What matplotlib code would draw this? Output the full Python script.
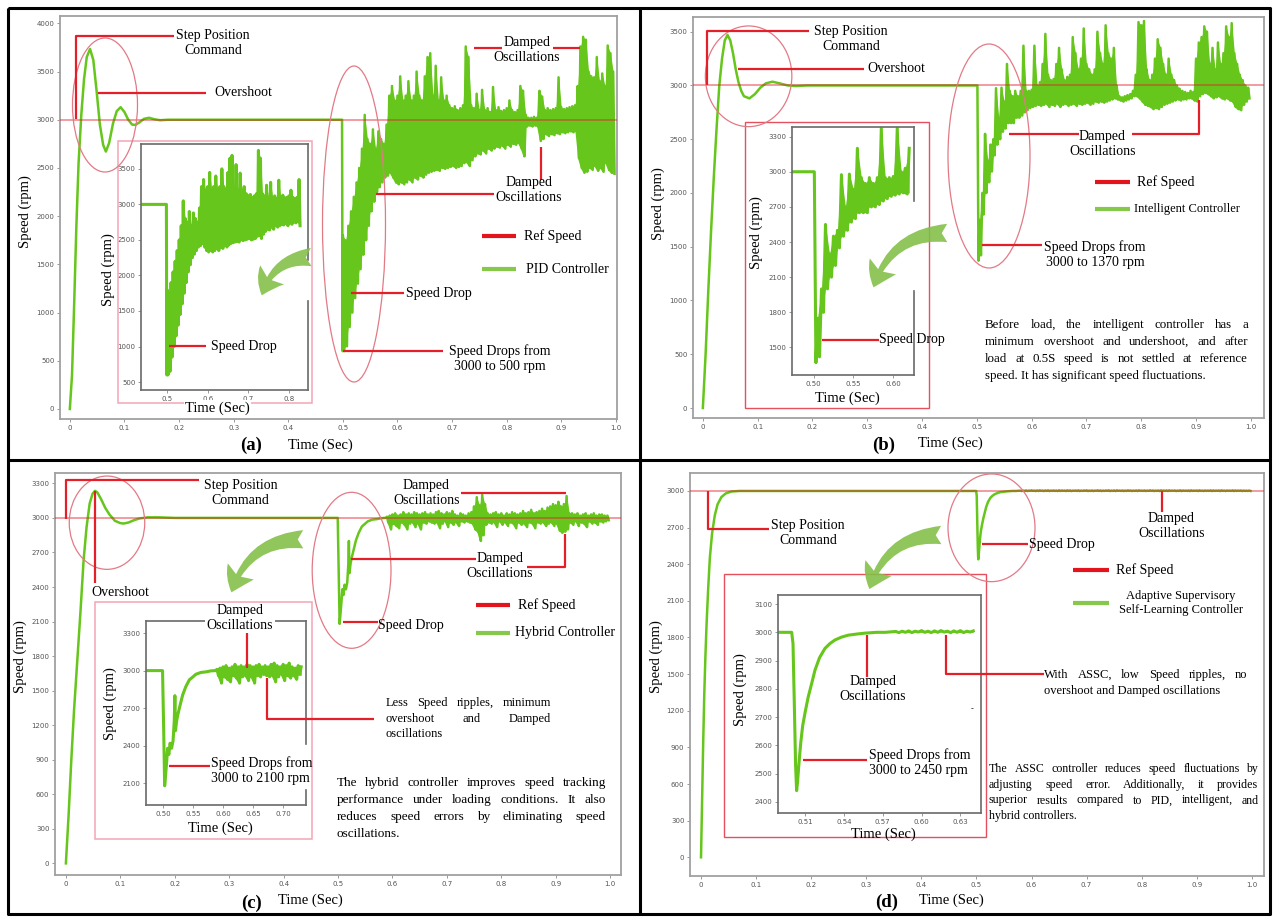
import numpy as np
import matplotlib
matplotlib.use('Agg')
import matplotlib.pyplot as plt
from matplotlib.patches import Ellipse, Rectangle, FancyArrowPatch
from matplotlib.lines import Line2D

plt.rcParams['font.family'] = ['Liberation Serif', 'DejaVu Serif']

# ====================== DATA ======================
REF_SPEED = 3000

# ---- (a) PID controller ----
pid_t = [0, 0.004, 0.008, 0.012, 0.016, 0.021, 0.026, 0.031, 0.037, 0.043, 0.049, 0.055,
         0.061, 0.066, 0.072, 0.079, 0.086, 0.093, 0.100, 0.107, 0.114, 0.120, 0.128,
         0.136, 0.145, 0.155, 0.165, 0.18, 0.2, 0.4985, 0.4995]
pid_v = [0, 350, 1100, 1900, 2550, 3050, 3420, 3650, 3734, 3620, 3300, 2950,
         2740, 2670, 2760, 2960, 3090, 3130, 3080, 3000, 2950, 2946, 2975,
         3010, 3020, 3005, 2995, 3000, 3000, 3000, 600]
pid_noise_t0 = 0.500
pid_noise_dt = 0.005
pid_hi = [1800, 1750, 1900, 2050, 2200, 2350, 2500, 2700, 3050, 2800,
          2750, 2900, 2700, 2880, 2800, 2750, 2950, 3250, 3350, 3200,
          3250, 3450, 3200, 3250, 3400, 3200, 3250, 3500, 3250, 3200,
          3450, 3650, 3690, 3250, 3560, 3200, 3440, 3200, 3250, 3150,
          3120, 3140, 3100, 3120, 3150, 3760, 3650, 3150, 3120, 3270,
          3100, 3310, 3100, 3120, 3080, 3340, 3100, 3130, 3090, 3100,
          3120, 3200, 3100, 3080, 3100, 3350, 3300, 3050, 3020, 3020,
          3030, 3020, 3300, 3240, 3100, 3120, 3100, 3110, 3120, 3440,
          3130, 3110, 3120, 3130, 3140, 3150, 3350, 3760, 3860, 3830,
          3500, 3450, 3440, 3650, 3400, 3480, 3350, 3770, 3690, 3500]
pid_lo = [600, 650, 850, 1000, 1150, 1300, 1450, 1600, 1750, 1900,
          2050, 2150, 2250, 2300, 2350, 2400, 2420, 2450, 2400, 2350,
          2330, 2350, 2330, 2350, 2380, 2350, 2400, 2380, 2420, 2400,
          2430, 2450, 2460, 2470, 2480, 2470, 2500, 2490, 2500, 2510,
          2520, 2500, 2510, 2520, 2550, 2560, 2520, 2580, 2620, 2650,
          2640, 2680, 2650, 2700, 2680, 2700, 2720, 2710, 2730, 2700,
          2740, 2720, 2750, 2740, 2760, 2700, 2620, 2930, 2940, 2930,
          2940, 2930, 2780, 2800, 2850, 2830, 2850, 2840, 2860, 2850,
          2870, 2860, 2870, 2880, 2870, 2880, 2600, 2500, 2450, 2460,
          2500, 2480, 2520, 2470, 2500, 2460, 2550, 2480, 2450, 2440]

# ---- (b) Intelligent controller ----
int_t = [0, 0.005, 0.010, 0.015, 0.020, 0.025, 0.030, 0.035, 0.040, 0.045, 0.050,
         0.055, 0.060, 0.065, 0.070, 0.075, 0.085, 0.095, 0.105, 0.115, 0.127,
         0.140, 0.155, 0.170, 0.190, 0.501, 0.503]
int_v = [0, 500, 1100, 1650, 2150, 2600, 3000, 3250, 3420, 3470, 3420,
         3300, 3150, 3030, 2950, 2900, 2880, 2920, 2980, 3020, 3035,
         3020, 3000, 2995, 3000, 3000, 1370]
int_noise_t0 = 0.505
int_noise_dt = 0.005
int_hi = [1750, 2000, 2550, 2300, 2450, 2500, 2975, 2700, 2980, 2850,
          3200, 2950, 2900, 2950, 2900, 2950, 3370, 2950, 2950, 2960,
          3370, 3000, 3030, 3200, 3480, 3100, 3050, 3060, 3200, 3350,
          3150, 3050, 3080, 3100, 3450, 3300, 3150, 3250, 3530, 3200,
          3150, 3100, 3150, 3500, 3300, 3200, 3560, 3300, 3250, 3350,
          3000, 2900, 2890, 2900, 2910, 2920, 2950, 3100, 3590, 3560,
          3600, 3150, 3050, 3100, 3250, 3430, 3350, 3200, 3100, 3250,
          3100, 3050, 3000, 2970, 2950, 2940, 2930, 2950, 2940, 3250,
          3400, 3450, 3550, 3500, 3200, 3350, 3150, 3400, 3200, 3300,
          3550, 3450, 3580, 3300, 3200, 3100, 3050, 3000, 2980]
int_lo = [1420, 1800, 2000, 2100, 2200, 2350, 2450, 2500, 2570, 2600,
          2650, 2650, 2650, 2700, 2700, 2720, 2750, 2770, 2790, 2800,
          2810, 2820, 2810, 2820, 2830, 2800, 2820, 2810, 2830, 2800,
          2820, 2830, 2810, 2820, 2830, 2810, 2830, 2820, 2830, 2840,
          2820, 2830, 2850, 2840, 2850, 2840, 2850, 2860, 2870, 2880,
          2870, 2860, 2850, 2860, 2870, 2880, 2900, 2900, 2880, 2850,
          2820, 2810, 2800, 2780, 2790, 2780, 2800, 2820, 2830, 2840,
          2850, 2860, 2870, 2860, 2870, 2870, 2880, 2880, 2860, 2850,
          2900, 2920, 2930, 2920, 2900, 2880, 2890, 2900, 2880, 2870,
          2880, 2860, 2850, 2800, 2780, 2770, 2820, 2850, 2880]

# ---- (c) Hybrid controller ----
hyb_t = [0, 0.005, 0.010, 0.015, 0.021, 0.027, 0.0325, 0.038, 0.0437, 0.049, 0.0535,
         0.058, 0.065, 0.072, 0.08, 0.09, 0.1, 0.106, 0.115, 0.125, 0.135, 0.15, 0.17,
         0.2, 0.4995, 0.5015, 0.503, 0.5045, 0.506, 0.508, 0.510, 0.512, 0.5145, 0.517,
         0.519, 0.520, 0.521, 0.523, 0.525, 0.529, 0.533, 0.538, 0.544, 0.550, 0.555,
         0.563, 0.572, 0.580, 0.5875]
hyb_v = [0, 420, 900, 1330, 1765, 2200, 2630, 2920, 3125, 3210, 3235,
         3220, 3160, 3090, 3030, 2975, 2955, 2951, 2960, 2980, 2995, 3005, 3005,
         3000, 3000, 2500, 2080, 2160, 2250, 2380, 2330, 2420, 2380, 2440,
         2600, 2800, 2520, 2600, 2650, 2730, 2806, 2870, 2926, 2950, 2971,
         2985, 2990, 2998, 3000]
hyb_noise_t0 = 0.590
hyb_noise_dt = 0.005
hyb_hi = [3010, 3020, 3030, 3040, 3020, 3030, 3050, 3030, 3040, 3030,
          3050, 3040, 3030, 3040, 3050, 3030, 3040, 3030, 3050, 3060,
          3040, 3030, 3050, 3040, 3060, 3030, 3020, 3040, 3030, 3020,
          3040, 3050, 3100, 3180, 3110, 3200, 3120, 3040, 3030, 3040,
          3050, 3030, 3040, 3020, 3040, 3030, 3050, 3040, 3030, 3040,
          3060, 3040, 3050, 3070, 3040, 3050, 3060, 3080, 3060, 3090,
          3100, 3120, 3110, 3140, 3100, 3120, 3190, 3040, 3040, 3030,
          3040, 3020, 3030, 3040, 3020, 3030, 3040, 3020, 3030, 3030,
          3020, 3020]
hyb_lo = [2960, 2900, 2950, 2930, 2910, 2960, 2940, 2900, 2950, 2960,
          2920, 2950, 2900, 2960, 2950, 2970, 2960, 2950, 2960, 2910,
          2950, 2970, 2920, 2960, 2940, 2960, 2930, 2970, 2960, 2970,
          2960, 2950, 2900, 2880, 2800, 2850, 2940, 2960, 2950, 2960,
          2920, 2970, 2940, 2960, 2930, 2960, 2950, 2910, 2960, 2940,
          2950, 2920, 2960, 2950, 2910, 2960, 2950, 2960, 2930, 2950,
          2960, 2930, 2950, 2890, 2870, 2880, 2900, 2960, 2940, 2970,
          2930, 2960, 2950, 2920, 2970, 2950, 2960, 2940, 2970, 2960,
          2970, 2980]

# ---- (d) Adaptive Supervisory Self-Learning controller ----
assc_t = [0, 0.002, 0.004, 0.006, 0.008, 0.010, 0.013, 0.016, 0.020, 0.025, 0.030,
          0.037, 0.045, 0.055, 0.07, 0.4995, 0.5005, 0.5015, 0.5025, 0.5033, 0.504,
          0.505, 0.5065, 0.508, 0.510, 0.5123, 0.515, 0.5175, 0.521, 0.5252, 0.529,
          0.533, 0.538, 0.5433, 0.55, 0.556, 0.565, 0.572]
assc_v = [0, 500, 950, 1350, 1650, 1900, 2200, 2450, 2650, 2800, 2890,
          2950, 2980, 2995, 3000, 3000, 2960, 2750, 2530, 2440, 2470,
          2530, 2610, 2670, 2720, 2772, 2820, 2866, 2910, 2943, 2960,
          2973, 2983, 2990, 2994, 2997, 3000, 3000]
assc_noise_t0 = 0.58
assc_noise_dt = 0.005
assc_hi = [3003, 3004, 3005, 3004, 3006, 3004, 3005, 3006, 3004, 3005, 3006, 3004, 3005, 3004,
           3006, 3005, 3004, 3006, 3005, 3004, 3005, 3006, 3004, 3005, 3006, 3004, 3005, 3004,
           3006, 3005, 3004, 3005, 3006, 3004, 3005, 3006, 3004, 3005, 3004, 3006, 3005, 3004,
           3005, 3006, 3004, 3005, 3004, 3006, 3005, 3004, 3005, 3006, 3004, 3005, 3006, 3004,
           3005, 3004, 3006, 3005, 3004, 3005, 3006, 3004, 3005, 3006, 3004, 3005, 3004, 3006,
           3005, 3004, 3005, 3006, 3004, 3005, 3004, 3006, 3005, 3004, 3005, 3004, 3003, 3004]
assc_lo = [2999, 3000, 2999, 3001, 3000, 2999, 3000, 3001, 2999, 3000, 2999, 3001, 3000, 2999,
           3000, 3001, 2999, 3000, 2999, 3001, 3000, 2999, 3000, 3001, 2999, 3000, 2999, 3001,
           3000, 2999, 3000, 3001, 2999, 3000, 2999, 3001, 3000, 2999, 3000, 3001, 2999, 3000,
           2999, 3001, 3000, 2999, 3000, 3001, 2999, 3000, 2999, 3001, 3000, 2999, 3000, 3001,
           2999, 3000, 2999, 3001, 3000, 2999, 3000, 3001, 2999, 3000, 2999, 3001, 3000, 2999,
           3000, 3001, 2999, 3000, 2999, 3001, 3000, 2999, 3000, 3001, 2999, 3000, 3000, 3000]

# ---- ticks ----
main_xticks = [0, 0.1, 0.2, 0.3, 0.4, 0.5, 0.6, 0.7, 0.8, 0.9, 1.0]
main_xlabels = ['0', '0.1', '0.2', '0.3', '0.4', '0.5', '0.6', '0.7', '0.8', '0.9', '1.0']
a_yticks = [0, 500, 1000, 1500, 2000, 2500, 3000, 3500, 4000]
a_in_xticks = [0.5, 0.6, 0.7, 0.8]
a_in_xlabels = ['0.5', '0.6', '0.7', '0.8']
a_in_yticks = [500, 1000, 1500, 2000, 2500, 3000, 3500]
b_yticks = [0, 500, 1000, 1500, 2000, 2500, 3000, 3500]
b_in_xticks = [0.50, 0.55, 0.60]
b_in_xlabels = ['0.50', '0.55', '0.60']
b_in_yticks = [1500, 1800, 2100, 2400, 2700, 3000, 3300]
c_yticks = [0, 300, 600, 900, 1200, 1500, 1800, 2100, 2400, 2700, 3000, 3300]
c_in_xticks = [0.50, 0.55, 0.60, 0.65, 0.70]
c_in_xlabels = ['0.50', '0.55', '0.60', '0.65', '0.70']
c_in_yticks = [2100, 2400, 2700, 3000, 3300]
d_yticks = [0, 300, 600, 900, 1200, 1500, 1800, 2100, 2400, 2700, 3000]
d_in_xticks = [0.51, 0.54, 0.57, 0.60, 0.63]
d_in_xlabels = ['0.51', '0.54', '0.57', '0.60', '0.63']
d_in_yticks = [2400, 2500, 2600, 2700, 2800, 2900, 3000, 3100]

# ====================== STYLE / HELPERS ======================
W, H = 1275, 918
GREEN = '#66c61c'
LEG_GREEN = '#86c94a'
RED = '#e51f28'
ELL = '#e27a86'
PINKBOX = '#f2a6b4'
REDBOX = '#e4505c'
ARROW = '#84c049'

fig = plt.figure(figsize=(W / 100, H / 100), dpi=100)
renderer = fig.canvas.get_renderer()


def ax_px(x0, y0, x1, y1):
    return fig.add_axes([x0 / W, 1 - y1 / H, (x1 - x0) / W, (y1 - y0) / H])


def fline(xs, ys, color=RED, lw=1.6):
    fig.add_artist(Line2D([x / W for x in xs], [1 - y / H for y in ys], color=color, lw=lw,
                          solid_capstyle='butt'))


def ftext(x, y, s, size=10, ha='left', va='center', **kw):
    return fig.text(x / W, 1 - y / H, s, fontsize=size, ha=ha, va=va, **kw)


def ellipse(cx, cy, w, h, color=ELL, lw=0.9):
    fig.add_artist(Ellipse((cx / W, 1 - cy / H), w / W, h / H, transform=fig.transFigure,
                           fill=False, ec=color, lw=lw))


def box(x0, y0, x1, y1, color, lw=1.1):
    fig.add_artist(Rectangle((x0 / W, 1 - y1 / H), (x1 - x0) / W, (y1 - y0) / H,
                             transform=fig.transFigure, fill=False, ec=color, lw=lw))


def garrow(x0, y0, x1, y1):
    fig.add_artist(FancyArrowPatch((x0 / W, 1 - y0 / H), (x1 / W, 1 - y1 / H),
                                   transform=fig.transFigure,
                                   connectionstyle='arc3,rad=0.38',
                                   arrowstyle='fancy,head_length=0.75,head_width=1.0,tail_width=0.6',
                                   mutation_scale=22, color=ARROW, alpha=0.9, lw=0))


def justify(lines, x0, x1, y0, dy, size):
    for i, line in enumerate(lines):
        y = y0 + i * dy
        if i == len(lines) - 1:
            ftext(x0, y, line, size)
            continue
        words = line.split()
        ts = [fig.text(0, 0, w, fontsize=size, va='center') for w in words]
        ws = [t.get_window_extent(renderer).width for t in ts]
        gap = ((x1 - x0) - sum(ws)) / (len(words) - 1)
        x = x0
        for t, w in zip(ts, ws):
            t.set_position((x / W, 1 - y / H))
            x += w + gap


def legend(x0, x1, y_ref, y_ctl, tx_ref, tx_ctl, ctl_label, ctl_size=10, ctl_ha='left'):
    fline([x0, x1], [y_ref, y_ref], color='#e3141c', lw=3)
    fline([x0, x1], [y_ctl, y_ctl], color=LEG_GREEN, lw=3)
    ftext(tx_ref, y_ref, 'Ref Speed', 10)
    ftext(tx_ctl, y_ctl, ctl_label, ctl_size, ha=ctl_ha, multialignment='center')


def build(t, v, t0, dt, hi, lo):
    """Return the full trace (start + zig-zag through the noisy band) and the band itself."""
    bt = t0 + dt * np.arange(len(hi))
    zt = np.column_stack([bt, bt + dt / 2]).ravel()
    zv = np.column_stack([hi, lo]).ravel()
    trace = (np.concatenate([t, zt]), np.concatenate([v, zv]))
    band = (bt, np.asarray(lo, float), np.asarray(hi, float))
    return trace, band


def style(ax, xlim, ylim, xticks, xlabels, yticks, spine_color, lw):
    ax.set_xlim(*xlim)
    ax.set_ylim(*ylim)
    ax.set_xticks(xticks, labels=xlabels, fontsize=5, fontfamily='DejaVu Sans', color='#555555')
    ax.set_yticks(yticks, labels=[str(y) for y in yticks], fontsize=5,
                  fontfamily='DejaVu Sans', color='#555555')
    ax.tick_params(length=2, width=0.6, color='#888888', pad=2)
    for s in ax.spines.values():
        s.set_color(spine_color)
        s.set_linewidth(lw)


def draw_series(ax, trace, band, lw, t_end=None):
    t, v = trace
    bt, lo, hi = band
    if t_end is not None:
        m = t <= t_end
        t, v = t[m], v[m]
        mb = bt <= t_end
        bt, lo, hi = bt[mb], lo[mb], hi[mb]
    ax.fill_between(bt, lo, hi, color=GREEN, lw=0, zorder=2)
    ax.plot(t, v, color=GREEN, lw=lw, zorder=2)


def main_panel(box_px, trace, band, xlim, ylim, yticks):
    ax = ax_px(*box_px)
    draw_series(ax, trace, band, 1.8)
    ax.axhline(REF_SPEED, color='#e0202a', alpha=0.45, lw=1.4, zorder=3)
    style(ax, xlim, ylim, main_xticks, main_xlabels, yticks, '#a0a0a0', 1.3)
    return ax


def inset_panel(box_px, trace, band, t_end, xlim, ylim, xticks, xlabels, yticks, right_gap=None):
    ax = ax_px(*box_px)
    draw_series(ax, trace, band, 2.2, t_end)
    style(ax, xlim, ylim, xticks, xlabels, yticks, '#6a6a6a', 1.2)
    if right_gap is not None:
        ax.spines['right'].set_visible(False)
        g0, g1 = right_gap
        ax.plot([1, 1], [1, g0], transform=ax.transAxes, color='#6a6a6a', lw=1.2, clip_on=False)
        ax.plot([1, 1], [g1, 0], transform=ax.transAxes, color='#6a6a6a', lw=1.2, clip_on=False)
    return ax


# ====================== PANEL FRAMES ======================
fline([8, 1270, 1270, 8, 8], [8, 8, 914, 914, 8], color='black', lw=2.2)
fline([640, 640], [8, 914], color='black', lw=2.2)
fline([8, 1270], [460, 460], color='black', lw=2.2)

# ====================== (a) ======================
tra, bda = build(pid_t, pid_v, pid_noise_t0, pid_noise_dt, pid_hi, pid_lo)
main_panel((60, 16, 617, 419), tra, bda, (-0.018, 1.002), (-104, 4076), a_yticks)
box(118.4, 140.7, 312.2, 403.3, PINKBOX)
inset_panel((141, 144, 308, 390), tra, bda, 0.83, (0.436, 0.847), (388, 3850),
            a_in_xticks, a_in_xlabels, a_in_yticks, right_gap=(0.53, 0.36))
ellipse(105, 105, 65, 134)
ellipse(354, 224, 63, 316)
fline([76.3, 76.3, 173.5], [119.3, 36, 36])
ftext(213, 43, 'Step Position\nCommand', ha='center', multialignment='center')
fline([98, 206], [92.7, 92.7])
ftext(214, 92.7, 'Overshoot')
fline([473.5, 502], [48.3, 48.3])
fline([553, 579.6], [48.3, 48.3])
ftext(527, 50, 'Damped\nOscillations', ha='center', multialignment='center')
fline([375.5, 494], [194, 194])
fline([540.8, 540.8], [146.7, 180])
ftext(528.6, 190, 'Damped\nOscillations', ha='center', multialignment='center')
fline([351, 404], [293.3, 293.3])
ftext(406.5, 293.3, 'Speed Drop')
fline([343, 443], [351, 351])
ftext(500, 358.5, 'Speed Drops from\n3000 to 500 rpm', ha='center', multialignment='center')
fline([169.4, 206], [346, 346])
ftext(211.4, 346, 'Speed Drop')
garrow(314, 257, 261, 298)
legend(481.6, 516.3, 236, 269.3, 524, 526, 'PID Controller')
ftext(251, 445, '(a)', 13.5, ha='center', fontweight='bold')
ftext(320, 445, 'Time (Sec)', 10.5, ha='center')
ftext(25, 212, 'Speed (rpm)', 10.5, ha='center', rotation=90)
ftext(108, 270, 'Speed (rpm)', 10.5, ha='center', rotation=90)
ftext(217.6, 408, 'Time (Sec)', 10.5, ha='center',
      bbox=dict(fc='white', ec='none', pad=1))

# ====================== (b) ======================
trb, bdb = build(int_t, int_v, int_noise_t0, int_noise_dt, int_hi, int_lo)
main_panel((693, 17, 1264, 418), trb, bdb, (-0.018, 1.024), (-93, 3637), b_yticks)
box(745.3, 121.7, 929, 408.3, REDBOX, 1.0)
inset_panel((792, 127, 914, 375), trb, bdb, 0.62, (0.473, 0.626), (1265, 3382),
            b_in_xticks, b_in_xlabels, b_in_yticks, right_gap=(0.70, 0.34))
ellipse(748.6, 76.3, 86.5, 100.7)
ellipse(989, 156, 82, 224)
fline([707.3, 707.3, 809.4], [85, 30.7, 30.7])
ftext(851, 38.5, 'Step Position\nCommand', ha='center', multialignment='center')
fline([738, 864.5], [69, 69])
ftext(867.8, 69, 'Overshoot')
fline([1009.4, 1078.8], [134.3, 134.3])
fline([1131.8, 1199.2, 1199.2], [134.3, 134.3, 100])
ftext(1102.4, 143.8, 'Damped\nOscillations', ha='center', multialignment='center')
legend(1095, 1129.8, 182.3, 209.3, 1137, 1134, 'Intelligent Controller', ctl_size=9)
fline([982, 1042], [245, 245])
ftext(1095, 255, 'Speed Drops from\n3000 to 1370 rpm', ha='center', multialignment='center')
fline([821.6, 878.8], [340, 340])
ftext(879, 340, 'Speed Drop')
justify(['Before load, the intelligent controller has a',
         'minimum overshoot and undershoot, and after',
         'load at 0.5S speed is not settled at reference',
         'speed. It has significant speed fluctuations.'], 985, 1248, 325, 17, 9.3)
garrow(950, 233, 872.7, 290)
ftext(884, 445, '(b)', 13.5, ha='center', fontweight='bold')
ftext(950, 443, 'Time (Sec)', 10.5, ha='center')
ftext(658, 204, 'Speed (rpm)', 10.5, ha='center', rotation=90)
ftext(756.3, 233, 'Speed (rpm)', 10.5, ha='center', rotation=90)
ftext(847.3, 398, 'Time (Sec)', 10.5, ha='center')

# ====================== (c) ======================
trc, bdc = build(hyb_t, hyb_v, hyb_noise_t0, hyb_noise_dt, hyb_hi, hyb_lo)
main_panel((55, 473, 621, 875), trc, bdc, (-0.020, 1.02), (-101, 3390), c_yticks)
box(95.1, 601.7, 312.2, 839.3, PINKBOX)
inset_panel((146, 621, 306, 805), trc, bdc, 0.731, (0.472, 0.738), (1927, 3396),
            c_in_xticks, c_in_xlabels, c_in_yticks, right_gap=(0.33, 0.08))
ellipse(107, 522.7, 75.5, 93.3)
ellipse(351.6, 570.3, 78.8, 156)
fline([66, 66, 198.8], [519.3, 480, 480])
ftext(240.8, 493, 'Step Position\nCommand', ha='center', multialignment='center')
fline([95, 95], [490.7, 583.3])
ftext(120.4, 592.3, 'Overshoot', ha='center')
fline([461.2, 566], [493.3, 493.3])
ftext(426.5, 493, 'Damped\nOscillations', ha='center', multialignment='center')
fline([351, 475.5], [559.3, 559.3])
fline([526.5, 565.3, 565.3], [567.3, 567.3, 534])
ftext(500, 566, 'Damped\nOscillations', ha='center', multialignment='center')
fline([342.9, 377.6], [622.3, 622.3])
ftext(377.6, 626, 'Speed Drop')
legend(475.5, 510.2, 605, 632.7, 517.6, 515, 'Hybrid Controller')
garrow(306, 539.3, 230.6, 595)
ftext(240, 618, 'Damped\nOscillations', ha='center', multialignment='center',
      bbox=dict(fc='white', ec='none', pad=1))
fline([247, 247], [631.7, 668.3])
fline([169.4, 210.2], [766, 766])
ftext(211, 771, 'Speed Drops from\n3000 to 2100 rpm')
fline([267.3, 267.3, 373.5], [678.3, 719.3, 719.3])
justify(['Less Speed ripples, minimum', 'overshoot and Damped', 'oscillations'],
        385.7, 551, 703.3, 15.4, 9)
justify(['The hybrid controller improves speed tracking',
         'performance under loading conditions. It also',
         'reduces speed errors by eliminating speed',
         'oscillations.'], 336.7, 606, 783.3, 17, 9.5)
ftext(251, 903.3, '(c)', 13.5, ha='center', fontweight='bold')
ftext(310, 900, 'Time (Sec)', 10.5, ha='center')
ftext(20.4, 656.7, 'Speed (rpm)', 10.5, ha='center', rotation=90)
ftext(110.2, 703.3, 'Speed (rpm)', 10.5, ha='center', rotation=90)
ftext(220.4, 828.3, 'Time (Sec)', 10.5, ha='center')

# ====================== (d) ======================
trd, bdd = build(assc_t, assc_v, assc_noise_t0, assc_noise_dt, assc_hi, assc_lo)
main_panel((690, 473, 1264, 876), trd, bdd, (-0.02, 1.022), (-153, 3147), d_yticks)
box(723.7, 574.3, 985.7, 837.3, REDBOX, 1.0)
inset_panel((777.5, 595, 981, 813), trd, bdd, 0.64, (0.4885, 0.646), (2361, 3132),
            d_in_xticks, d_in_xlabels, d_in_yticks)
ellipse(991.5, 527.8, 87, 107.7)
fline([708.2, 708.2, 768.6], [490.7, 529.3, 529.3])
ftext(808, 533, 'Step Position\nCommand', ha='center', multialignment='center')
fline([982, 1027.8], [544.3, 544.3])
ftext(1029, 544.3, 'Speed Drop')
fline([1161.6, 1161.6], [490.7, 511.7])
ftext(1171.4, 526, 'Damped\nOscillations', ha='center', multialignment='center')
legend(1072.7, 1108.6, 570, 602.7, 1115.5, 1180.8,
       'Adaptive Supervisory\nSelf-Learning Controller', ctl_size=9, ctl_ha='center')
garrow(944, 535, 868.6, 591.7)
ftext(872.7, 689, 'Damped\nOscillations', ha='center', multialignment='center')
fline([866.5, 866.5], [635, 676.7])
fline([946, 946, 1044], [635, 674, 674])
justify(['With ASSC, low Speed ripples, no', 'overshoot and Damped oscillations'],
        1044, 1247, 675, 15.7, 9)
fline([803.3, 866.5], [760, 760])
ftext(868.6, 763, 'Speed Drops from\n3000 to 2450 rpm')
ftext(970.6, 709, '-', 6)
justify(['The ASSC controller reduces speed fluctuations by',
         'adjusting speed error. Additionally, it provides',
         'superior results compared to PID, intelligent, and',
         'hybrid controllers.'], 989, 1258.4, 769.3, 15.6, 8.6)
ftext(887, 902.7, '(d)', 13.5, ha='center', fontweight='bold')
ftext(951, 900, 'Time (Sec)', 10.5, ha='center')
ftext(656.3, 656.7, 'Speed (rpm)', 10.5, ha='center', rotation=90)
ftext(740, 690, 'Speed (rpm)', 10.5, ha='center', rotation=90)
ftext(882.9, 834, 'Time (Sec)', 10.5, ha='center')

fig.savefig('out.png', dpi=100)
